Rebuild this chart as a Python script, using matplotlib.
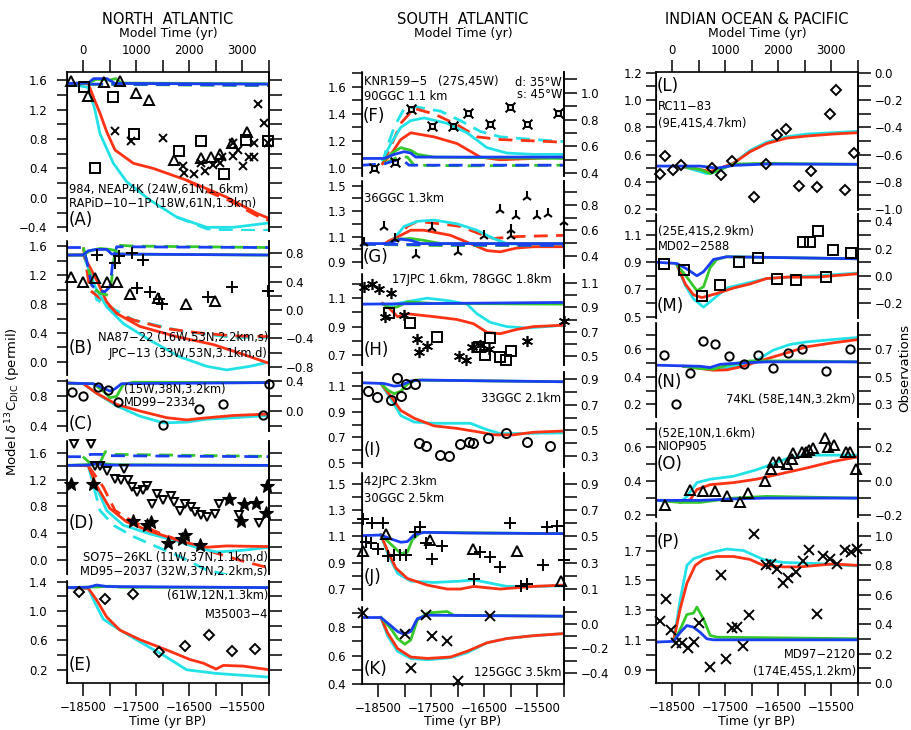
import matplotlib.pyplot as plt
from matplotlib.path import Path
from matplotlib.ticker import FuncFormatter

# Model curves are (model time [yr], model d13C_DIC [permil]) pairs.
# Observations are (model time [yr], observed d13C [permil]) pairs.

# ---------------- NORTH ATLANTIC ----------------
a_blue = [(-300, 1.555), (100, 1.56), (200, 1.62), (450, 1.62), (600, 1.555), (3500, 1.545)]
a_blue_d = [(-300, 1.545), (600, 1.545), (3500, 1.53)]
a_green = [(-300, 1.555), (100, 1.56), (250, 1.61), (500, 1.60), (620, 1.62), (720, 1.56), (3500, 1.55)]
a_green_d = [(-300, 1.545), (700, 1.54), (3500, 1.525)]
a_red = [(-300, 1.555), (101, 1.55), (195, 1.37), (321, 1.15), (446, 0.90), (603, 0.65), (948, 0.47),
         (1324, 0.40), (1951, 0.24), (2703, 0.01), (3268, -0.21), (3506, -0.28)]
a_red_d = [(1951, 0.24), (2300, 0.10), (2703, -0.02), (3268, -0.24), (3506, -0.31)]
a_cyan = [(-300, 1.555), (101, 1.50), (227, 1.19), (321, 0.87), (572, 0.47), (822, 0.22), (1261, -0.03),
          (1763, -0.26), (2327, -0.40), (2829, -0.40), (3506, -0.34)]
a_cyan_d = [(1763, -0.26), (2327, -0.42), (2829, -0.44), (3506, -0.44)]
a_tri = [(-231, 1.59), (101, 1.39), (402, 1.57), (697, 1.59), (998, 1.43), (1236, 1.33), (1719, 0.51),
         (2227, 0.54), (2409, 0.56), (2572, 0.59), (2810, 0.75), (3092, 0.90)]
a_sqr = [(26, 1.50), (227, 0.40), (559, 1.37), (967, 0.87), (1807, 0.64), (2221, 0.77), (2653, 0.32),
         (3067, 0.78), (3475, 0.77)]
a_x = [(603, 0.91), (904, 0.77), (1512, 0.81), (1888, 0.43), (1907, 0.34), (2089, 0.32), (2227, 0.47),
       (2290, 0.37), (2440, 0.44), (2578, 0.47), (2622, 0.56), (2816, 0.74), (2829, 0.57), (2917, 0.65),
       (3004, 0.43), (3130, 0.56), (3217, 0.56), (3217, 0.75), (3299, 1.28), (3412, 1.02), (3475, 0.74)]

b_blue = [(-300, 1.476), (0, 1.476), (101, 1.535), (258, 1.554), (446, 1.554), (540, 1.49), (3500, 1.476)]
b_blue_d = [(-300, 1.58), (7, 1.58), (82, 1.36), (164, 1.06), (258, 0.99), (415, 0.97), (509, 1.04),
            (559, 1.36), (634, 1.59), (3500, 1.58)]
b_green = [(-300, 1.476), (7, 1.476), (133, 1.535), (321, 1.567), (509, 1.554), (603, 1.54), (697, 1.49),
           (3500, 1.476)]
b_green_d = [(7, 1.58), (82, 1.36), (195, 1.02), (321, 0.95), (478, 0.92), (540, 1.13), (603, 1.54),
             (697, 1.61), (948, 1.60), (3500, 1.58)]
b_red = [(-300, 1.476), (7, 1.48), (258, 1.13), (446, 0.83), (634, 0.67), (1073, 0.49), (1763, 0.35),
         (2453, 0.24), (2954, 0.12), (3506, -0.02)]
b_red_d = [(7, 1.58), (133, 0.99), (321, 0.88), (634, 0.67), (948, 0.58), (1575, 0.46), (2202, 0.40),
           (2829, 0.36), (3506, 0.35)]
b_cyan = [(-300, 1.476), (7, 1.48), (227, 1.04), (446, 0.76), (760, 0.53), (1261, 0.30), (1826, 0.07),
          (2327, -0.06), (2703, -0.11), (3142, -0.06), (3506, 0.0)]
b_cyan_d = [(7, 1.58), (258, 0.86), (948, 0.58), (1888, 0.42), (2829, 0.34), (3506, 0.34)]
b_tri = [(-225, 0.47), (7, 0.40), (227, 0.45), (446, 0.40), (647, 0.40), (885, 0.23), (1418, 0.17),
         (1938, 0.09), (2484, 0.12)]
b_plus = [(258, 0.78), (603, 0.66), (684, 0.76), (916, 0.80), (1123, 0.70), (1023, 0.31), (1261, 0.26),
          (1437, 0.15), (1481, 0.09), (2358, 0.19), (2810, 0.32), (3487, 0.27)]

c_blue = [(-300, 0.978), (195, 0.97), (383, 0.91), (509, 0.87), (603, 0.90), (728, 0.97), (3500, 0.985)]
c_green = [(-300, 0.978), (195, 0.97), (383, 0.87), (509, 0.78), (634, 0.80), (760, 0.96), (948, 0.99),
           (3500, 0.985)]
c_red = [(-300, 0.978), (7, 0.97), (258, 0.84), (634, 0.69), (1073, 0.60), (1575, 0.51), (1951, 0.48),
         (2202, 0.50), (2829, 0.54), (3506, 0.56)]
c_cyan = [(-300, 0.978), (7, 0.97), (258, 0.84), (634, 0.67), (1073, 0.53), (1512, 0.44), (1951, 0.45),
          (2327, 0.49), (2829, 0.51), (3506, 0.54)]
c_circ = [(-212, 0.26), (-5, 0.21), (277, 0.32), (465, 0.29), (653, 0.12), (1500, -0.19), (2177, 0.03),
          (2641, 0.09), (3393, -0.05), (3506, 0.37)]

d_blue = [(-300, 1.415), (100, 1.42), (258, 1.44), (450, 1.42), (3500, 1.415)]
d_blue_d = [(-300, 1.545), (0, 1.545), (150, 1.58), (350, 1.58), (500, 1.56), (3500, 1.545)]
d_green = [(-300, 1.415), (200, 1.43), (400, 1.44), (600, 1.425), (3500, 1.415)]
d_green_d = [(0, 1.545), (200, 1.40), (300, 1.42), (420, 1.62), (600, 1.58), (3500, 1.55)]
d_red = [(-300, 1.415), (101, 1.41), (258, 1.11), (509, 0.77), (822, 0.57), (1261, 0.43), (1888, 0.27),
         (2327, 0.19), (2703, 0.21), (3506, 0.20)]
d_red_d = [(101, 1.41), (383, 1.09), (603, 0.74), (948, 0.57), (1449, 0.40), (1951, 0.25), (2515, 0.10),
           (3017, -0.02), (3506, -0.12)]
d_cyan = [(-300, 1.415), (101, 1.41), (227, 1.14), (446, 0.74), (760, 0.52), (1261, 0.39), (1700, 0.30),
          (2202, 0.17), (2515, 0.12), (2954, 0.14), (3506, 0.19)]
d_cyan_d = [(101, 1.41), (321, 0.74), (572, 0.52), (948, 0.35), (1324, 0.22), (1826, 0.05), (2327, -0.15),
            (2703, -0.22), (3205, -0.30)]
d_star = [(-225, 1.14), (195, 1.13), (935, 0.59), (1199, 0.52), (1274, 0.57), (1606, 0.26), (1857, 0.32),
          (1920, 0.37), (2202, 0.22), (2753, 0.91), (3036, 0.83), (2967, 0.58), (3255, 0.85), (3456, 1.11),
          (3437, 0.71)]
d_tdown = [(-168, 1.73), (145, 1.73), (227, 1.41), (321, 1.41), (459, 1.33), (603, 1.21), (772, 1.36),
           (709, 1.19), (854, 1.19), (916, 1.09), (1010, 1.01), (1123, 1.05), (1199, 1.11), (1293, 0.84),
           (1387, 0.99), (1512, 0.89), (1650, 0.96), (1713, 0.86), (1826, 0.74), (1920, 0.84), (2026, 0.79),
           (2108, 0.72), (2214, 0.67), (2327, 0.64), (2484, 0.69), (2565, 0.83), (2942, 0.67), (3318, 0.56)]

e_blue = [(-300, 1.32), (100, 1.325), (258, 1.355), (450, 1.335), (3500, 1.32)]
e_green = [(-300, 1.32), (300, 1.33), (500, 1.34), (700, 1.325), (3500, 1.32)]
e_red = [(-300, 1.32), (101, 1.31), (258, 1.15), (446, 0.92), (697, 0.74), (1073, 0.61), (1575, 0.47),
         (2014, 0.34), (2264, 0.29), (2503, 0.21), (2641, 0.26), (3017, 0.25), (3506, 0.20)]
e_cyan = [(-300, 1.32), (101, 1.31), (227, 1.11), (383, 0.89), (634, 0.77), (1073, 0.58), (1512, 0.40),
          (1951, 0.20), (2515, 0.15), (3506, 0.10)]
e_diam = [(-68, 1.26), (421, 1.16), (935, 1.23), (1437, 0.44), (1920, 0.52), (2371, 0.68), (2810, 0.45),
          (3236, 0.49)]

# ---------------- SOUTH ATLANTIC ----------------
f_blue = [(-300, 1.07), (118, 1.07), (305, 1.10), (492, 1.12), (617, 1.11), (710, 1.08), (3500, 1.08)]
f_blue_d = [(-300, 1.02), (118, 1.03), (368, 1.06), (492, 1.05), (586, 1.02), (3500, 1.02)]
f_green = [(118, 1.06), (305, 1.12), (430, 1.15), (617, 1.13), (741, 1.10), (1053, 1.08), (3500, 1.07)]
f_green_d = [(118, 1.03), (368, 1.08), (554, 1.08), (679, 1.02), (1676, 1.015), (3500, 1.02)]
f_red = [(87, 1.03), (243, 1.10), (430, 1.21), (617, 1.26), (1053, 1.23), (1489, 1.18), (1925, 1.08),
         (2299, 1.06), (2922, 1.07), (3500, 1.08)]
f_red_d = [(87, 1.03), (243, 1.16), (430, 1.33), (679, 1.44), (1053, 1.40), (1489, 1.32), (1863, 1.23),
           (2299, 1.21), (2922, 1.20), (3500, 1.19)]
f_cyan = [(87, 1.06), (243, 1.18), (430, 1.30), (617, 1.35), (866, 1.37), (1302, 1.33), (1676, 1.26),
          (2050, 1.15), (2423, 1.11), (2922, 1.10), (3500, 1.10)]
f_cyan_d = [(87, 1.03), (150, 1.13), (305, 1.30), (492, 1.44), (741, 1.45), (1177, 1.42), (1551, 1.35),
            (1925, 1.27), (2299, 1.23), (2922, 1.21), (3500, 1.195)]
f_box = [(-81, 0.44), (318, 0.48), (617, 0.88), (1009, 0.75), (1408, 0.75), (1695, 0.85), (2100, 0.77),
         (2486, 0.89), (2804, 0.77), (3389, 0.85)]

g_blue = [(-300, 1.045), (181, 1.045), (430, 1.08), (617, 1.07), (804, 1.045), (3500, 1.045)]
g_blue_d = [(-300, 1.04), (3500, 1.03)]
g_green = [(181, 1.045), (368, 1.08), (617, 1.085), (866, 1.07), (1177, 1.045), (3500, 1.045)]
g_green_d = [(-300, 1.04), (1053, 1.03), (3500, 1.03)]
g_red = [(118, 1.045), (305, 1.08), (430, 1.11), (617, 1.15), (866, 1.15), (1364, 1.11), (1738, 1.045),
         (2050, 0.99), (2299, 0.98), (2610, 1.01), (2922, 1.02), (3500, 1.02)]
g_red_d = [(181, 1.06), (368, 1.10), (554, 1.18), (741, 1.22), (1177, 1.20), (1551, 1.18), (1925, 1.12),
           (2174, 1.085), (2610, 1.10), (3500, 1.11)]
g_cyan = [(181, 1.05), (305, 1.085), (492, 1.18), (741, 1.22), (1053, 1.23), (1489, 1.20), (1863, 1.15),
          (2174, 1.085), (2423, 1.045), (2922, 1.03), (3500, 1.03)]
g_tri = [(-255, 0.50), (106, 0.63), (318, 0.53), (710, 0.41), (1009, 0.62), (1508, 0.43), (1994, 0.56),
         (2305, 0.76), (2598, 0.71), (2797, 0.86), (2997, 0.71), (3190, 0.73), (2498, 0.60), (2498, 0.56),
         (3501, 0.67)]

h_blue = [(-300, 1.058), (3500, 1.07)]
h_green = [(87, 1.058), (243, 1.03), (368, 1.04), (554, 1.074), (1053, 1.063), (3500, 1.058)]
h_red = [(87, 1.063), (212, 1.03), (368, 0.97), (554, 0.99), (1053, 0.97), (1489, 0.95), (1800, 0.92),
         (2050, 0.86), (2299, 0.85), (2610, 0.88), (2922, 0.90), (3500, 0.91)]
h_cyan = [(87, 1.063), (212, 1.044), (368, 1.063), (617, 1.08), (928, 1.10), (1364, 1.08), (1676, 1.058),
          (1863, 0.99), (2112, 0.93), (2423, 0.90), (2797, 0.89), (3500, 0.91)]
h_star = [(-255, 1.07), (-118, 1.09), (25, 1.05), (243, 1.02), (131, 0.82), (492, 0.84), (741, 0.64),
          (773, 0.53), (916, 0.58), (1520, 0.50), (1657, 0.47), (1769, 0.57), (1925, 0.59), (2081, 0.56),
          (2797, 0.62), (3501, 0.79)]
h_sqr = [(212, 0.85), (604, 0.77), (1103, 0.66), (1906, 0.57), (2006, 0.51), (2100, 0.65), (2299, 0.49),
         (2411, 0.47), (2498, 0.54)]

i_blue = [(-300, 1.126), (118, 1.12), (305, 1.10), (430, 1.105), (617, 1.14), (804, 1.147), (3500, 1.134)]
i_green = [(56, 1.12), (181, 1.07), (305, 1.04), (430, 1.06), (554, 1.115), (710, 1.147), (3500, 1.134)]
i_red = [(56, 1.12), (243, 1.02), (430, 0.91), (679, 0.85), (1053, 0.79), (1489, 0.77), (1925, 0.74),
         (2174, 0.72), (2548, 0.72), (2922, 0.74), (3500, 0.75)]
i_cyan = [(56, 1.12), (243, 1.00), (430, 0.87), (679, 0.82), (1053, 0.81), (1489, 0.81), (1738, 0.81),
          (2050, 0.76), (2299, 0.73), (2610, 0.73), (3500, 0.735)]
i_circ = [(-193, 0.81), (-19, 0.76), (243, 0.74), (355, 0.91), (442, 0.77), (523, 0.86), (692, 0.86),
          (773, 0.40), (897, 0.38), (1159, 0.31), (1333, 0.30), (1539, 0.39), (1707, 0.41), (1788, 0.40),
          (2068, 0.44), (2405, 0.48), (2797, 0.41), (3246, 0.38)]

j_blue = [(-300, 1.105), (56, 1.11), (243, 1.08), (430, 1.055), (554, 1.06), (679, 1.11), (866, 1.13),
          (1676, 1.125), (3500, 1.12)]
j_green = [(56, 1.11), (243, 1.04), (430, 0.97), (554, 0.98), (648, 1.075), (804, 1.13), (3500, 1.12)]
j_red = [(56, 1.11), (181, 0.99), (336, 0.86), (554, 0.78), (928, 0.73), (1302, 0.70), (1551, 0.70),
         (1800, 0.72), (2050, 0.71), (2299, 0.70), (2610, 0.71), (2922, 0.72), (3500, 0.73)]
j_cyan = [(56, 1.11), (181, 0.97), (368, 0.82), (617, 0.76), (1053, 0.75), (1551, 0.76), (1800, 0.77),
          (2050, 0.75), (2423, 0.72), (2922, 0.72), (3500, 0.725)]
j_plus = [(-274, 0.63), (-112, 0.60), (100, 0.60), (-224, 0.46), (-131, 0.45), (-6, 0.40), (193, 0.35),
          (305, 0.36), (417, 0.36), (523, 0.36), (698, 0.53), (791, 0.57), (910, 0.45), (1009, 0.33),
          (1209, 0.43), (1800, 0.18), (1913, 0.38), (2112, 0.34), (2299, 0.27), (2486, 0.60), (2691, 0.12),
          (2810, 0.14), (3096, 0.28), (3184, 0.57), (3377, 0.58), (3501, 0.32)]
j_tri = [(-274, 0.39), (150, 0.52), (978, 0.47), (1788, 0.40), (2623, 0.39), (3451, 0.16)]

k_blue = [(-300, 0.868), (56, 0.868), (243, 0.81), (368, 0.77), (492, 0.75), (617, 0.77), (741, 0.86),
          (928, 0.884), (3500, 0.877)]
k_green = [(56, 0.868), (243, 0.79), (368, 0.72), (505, 0.68), (617, 0.71), (741, 0.85), (928, 0.90),
           (1302, 0.91), (1427, 0.884), (3500, 0.877)]
k_red = [(56, 0.868), (181, 0.76), (368, 0.65), (617, 0.59), (928, 0.58), (1364, 0.59), (1676, 0.63),
         (2050, 0.69), (2423, 0.72), (2922, 0.74), (3500, 0.755)]
k_cyan = [(56, 0.868), (181, 0.74), (368, 0.63), (617, 0.58), (928, 0.57), (1364, 0.585), (1676, 0.62),
          (2050, 0.69), (2423, 0.72), (2922, 0.74), (3500, 0.755)]
k_x = [(-274, 0.09), (505, -0.08), (617, -0.36), (897, 0.08), (1009, -0.10), (1302, -0.14), (1501, -0.47),
       (2100, 0.07)]

# ---------------- INDIAN OCEAN & PACIFIC ----------------
l_blue = [(-300, 0.515), (531, 0.515), (844, 0.50), (1156, 0.52), (1781, 0.53), (3500, 0.528)]
l_green = [(219, 0.51), (531, 0.49), (719, 0.46), (906, 0.49), (1156, 0.53), (1781, 0.535), (3500, 0.528)]
l_red = [(219, 0.51), (531, 0.49), (719, 0.475), (906, 0.50), (1156, 0.535), (1469, 0.62), (1781, 0.68),
         (2156, 0.72), (2531, 0.735), (3031, 0.75), (3500, 0.76)]
l_cyan = [(219, 0.51), (656, 0.46), (844, 0.475), (1156, 0.535), (1469, 0.63), (1781, 0.69), (2156, 0.73),
          (2531, 0.75), (3031, 0.76), (3500, 0.77)]
l_diam = [(-231, -0.74), (-125, -0.61), (13, -0.71), (175, -0.68), (750, -0.70), (925, -0.75), (1125, -0.65),
          (1550, -0.91), (1769, -0.67), (1981, -0.46), (2144, -0.41), (2381, -0.83), (2619, -0.72),
          (2731, -0.84), (2969, -0.30), (3081, -0.13), (3250, -0.86), (3419, -0.59)]

m_blue = [(-300, 0.90), (94, 0.89), (281, 0.85), (469, 0.80), (594, 0.83), (781, 0.92), (1031, 0.94),
          (3500, 0.925)]
m_green = [(94, 0.88), (281, 0.79), (469, 0.69), (594, 0.72), (719, 0.86), (844, 0.92), (1031, 0.94),
           (3500, 0.925)]
m_red = [(94, 0.88), (250, 0.74), (406, 0.66), (563, 0.64), (844, 0.67), (1156, 0.71), (1469, 0.74),
         (1781, 0.78), (2156, 0.79), (2719, 0.79), (3031, 0.80), (3500, 0.815)]
m_cyan = [(94, 0.88), (250, 0.73), (406, 0.63), (594, 0.57), (781, 0.63), (1031, 0.71), (1344, 0.74),
          (1781, 0.78), (2156, 0.79), (2719, 0.80), (3500, 0.82)]
m_sqr = [(-156, 0.09), (219, 0.04), (563, -0.15), (906, -0.07), (1269, 0.10), (1625, 0.13), (1969, -0.02),
         (2331, -0.03), (2456, 0.25), (2606, 0.25), (2750, 0.33), (2894, -0.01), (3031, 0.19), (3375, 0.17)]

n_blue = [(-300, 0.484), (531, 0.476), (719, 0.467), (906, 0.49), (1281, 0.50), (1781, 0.508), (3500, 0.508)]
n_green = [(219, 0.476), (531, 0.46), (781, 0.455), (1031, 0.484), (1469, 0.515), (2094, 0.515), (3500, 0.508)]
n_red = [(219, 0.476), (531, 0.46), (781, 0.447), (1031, 0.45), (1344, 0.476), (1594, 0.508), (1906, 0.544),
         (2219, 0.58), (2531, 0.617), (3031, 0.646), (3500, 0.67)]
n_cyan = [(219, 0.476), (781, 0.452), (1281, 0.484), (1594, 0.52), (1906, 0.593), (2219, 0.634),
          (2531, 0.653), (3031, 0.67), (3500, 0.685)]
n_circ = [(-156, 0.66), (81, 0.30), (331, 0.53), (575, 0.76), (813, 0.74), (1081, 0.65), (1356, 0.59),
          (1625, 0.66), (1894, 0.56), (2175, 0.67), (2450, 0.70), (2906, 0.54), (3356, 0.70)]

o_blue = [(-300, 0.287), (531, 0.287), (1156, 0.295), (1781, 0.30), (3500, 0.30)]
o_green = [(-300, 0.287), (156, 0.275), (531, 0.275), (1156, 0.30), (1781, 0.31), (3500, 0.30)]
o_red = [(156, 0.275), (344, 0.29), (469, 0.35), (719, 0.378), (1156, 0.39), (1594, 0.41), (2094, 0.445),
         (2531, 0.475), (3031, 0.513), (3500, 0.54)]
o_cyan = [(156, 0.275), (281, 0.31), (469, 0.39), (719, 0.41), (1156, 0.427), (1594, 0.465), (1906, 0.50),
          (2156, 0.53), (2531, 0.55), (3031, 0.55), (3500, 0.55)]
o_tri = [(-125, -0.14), (331, -0.05), (575, -0.06), (813, -0.06), (1044, -0.09), (1281, -0.12),
         (1438, -0.07), (1750, 0.00), (1863, 0.07), (1906, 0.11), (2013, 0.11), (2156, 0.10), (2250, 0.13),
         (2281, 0.16), (2438, 0.17), (2513, 0.17), (2581, 0.18), (2656, 0.19), (2881, 0.25), (2944, 0.20),
         (3050, 0.21), (3281, 0.17), (3356, 0.17), (3469, 0.07)]

p_blue = [(-300, 1.085), (31, 1.09), (156, 1.15), (281, 1.196), (406, 1.185), (531, 1.15), (656, 1.107),
          (781, 1.10), (3500, 1.10)]
p_green = [(31, 1.09), (156, 1.17), (281, 1.27), (406, 1.28), (469, 1.32), (594, 1.24), (719, 1.13),
           (844, 1.118), (3500, 1.107)]
p_red = [(31, 1.095), (156, 1.31), (281, 1.48), (438, 1.60), (594, 1.64), (844, 1.66), (1156, 1.66),
         (1469, 1.64), (1719, 1.60), (2094, 1.59), (2406, 1.59), (2719, 1.60), (3031, 1.61), (3500, 1.60)]
p_cyan = [(31, 1.095), (156, 1.37), (281, 1.60), (406, 1.645), (531, 1.66), (719, 1.685), (1031, 1.71),
          (1344, 1.70), (1719, 1.64), (2094, 1.62), (2719, 1.613), (3500, 1.596)]
p_x = [(-219, 0.42), (-113, 0.57), (-19, 0.36), (81, 0.27), (188, 0.27), (300, 0.24), (419, 0.28),
       (500, 0.41), (719, 0.11), (925, 0.73), (1019, 0.16), (1125, 0.37), (1219, 0.38), (1344, 0.25),
       (1450, 0.46), (1544, 1.01), (1763, 0.80), (1863, 0.81), (1969, 0.77), (2081, 0.68), (2175, 0.71),
       (2331, 0.75), (2469, 0.83), (2581, 0.90), (2731, 0.47), (2844, 0.86), (2969, 0.84), (3106, 0.81),
       (3250, 0.90), (3375, 0.89), (3481, 0.91)]

model_ticks = [0, 1000, 2000, 3000]
model_minor = [500, 1500, 2500, 3500]
bp_labels = ['\u221218500', '\u221217500', '\u221216500', '\u221215500']

RED, CYAN, GREEN, BLUE = '#ff3214', '#22e2e8', '#35c92a', '#1a3ff2'

# square with spikes at the corners, used for the KNR159-5 cores
BOX = Path([(-0.5, -0.5), (0.5, -0.5), (0.5, 0.5), (-0.5, 0.5), (-0.5, -0.5),
            (0.5, 0.5), (1, 1), (-0.5, 0.5), (-1, 1), (0.5, -0.5), (1, -1), (-0.5, -0.5), (-1, -1)],
           [Path.MOVETO, Path.LINETO, Path.LINETO, Path.LINETO, Path.CLOSEPOLY,
            Path.MOVETO, Path.LINETO, Path.MOVETO, Path.LINETO, Path.MOVETO, Path.LINETO,
            Path.MOVETO, Path.LINETO])

W, H = 912, 730
COLS = [(67, 269), (362, 564), (656, 858)]
LPAD = [7, 4.5, 3]
TICK_FS = 8.5
NOTE_FS = 8.3
TAG_FS = 12

plt.rcParams['font.family'] = 'DejaVu Sans'
fig = plt.figure(figsize=(W / 100, H / 100), dpi=100)


def fmt(v, pos=None):
    s = f'{v:.1f}'
    if s == '-0.0':
        s = '0.0'
    return s.replace('-', '\u2212')


def panel(col, top, bot, ylim, major, minor, rlim=None, rmajor=None, rminor=None, first=False, last=False):
    x0, x1 = COLS[col]
    ax = fig.add_axes([x0 / W, 1 - bot / H, (x1 - x0) / W, (bot - top) / H])
    ax.set_xlim(-300, 3500)
    ax.set_ylim(*ylim)
    ax.spines['top'].set_visible(first)
    ax.spines['bottom'].set_visible(last)
    for s in ax.spines.values():
        s.set_linewidth(1.2)
    ax.set_yticks(major)
    ax.set_yticks(minor, minor=True)
    ax.yaxis.set_major_formatter(FuncFormatter(fmt))
    ax.tick_params(axis='y', which='both', direction='out', length=7, width=1.1,
                   labelsize=TICK_FS, pad=LPAD[col], right=False)
    ax.set_xticks(model_ticks)
    ax.set_xticks(model_minor, minor=True)
    if first:
        ax.xaxis.set_ticks_position('top')
        ax.set_xticklabels([str(t) for t in model_ticks])
        ax.tick_params(axis='x', which='both', direction='out', length=9, width=1.1, labelsize=TICK_FS, pad=2)
    elif last:
        ax.set_xticklabels(bp_labels)
        ax.tick_params(axis='x', which='both', direction='out', length=9, width=1.1, labelsize=TICK_FS, pad=4)
    else:
        ax.tick_params(axis='x', which='both', bottom=False, top=False, labelbottom=False)

    axr = ax.twinx()
    axr.set_ylim(*(rlim if rlim else ylim))
    for s in ('top', 'bottom'):
        axr.spines[s].set_visible(False)
    axr.spines['right'].set_linewidth(1.2)
    if rmajor is None:
        axr.set_yticks(list(major) + list(minor))
        axr.set_yticklabels([])
    else:
        axr.set_yticks(rmajor)
        axr.set_yticks(rminor, minor=True)
        axr.yaxis.set_major_formatter(FuncFormatter(fmt))
    axr.tick_params(axis='y', which='both', direction='out', length=9, width=1.1, labelsize=TICK_FS, pad=3)
    return ax, axr


def curve(ax, pts, color, dashed=False):
    t = [p[0] for p in pts]
    v = [p[1] for p in pts]
    kw = dict(color=color, lw=2.0, solid_joinstyle='round')
    if dashed:
        kw['dashes'] = (5, 3)
    ax.plot(t, v, **kw)


def obs(ax, pts, marker, ms=6.5, filled=False, mew=1.4):
    t = [p[0] for p in pts]
    v = [p[1] for p in pts]
    ax.plot(t, v, ls='none', marker=marker, ms=ms, mew=mew, mec='black',
            mfc='black' if filled else 'none', clip_on=False, zorder=5)


def txt(x, y, s, size=NOTE_FS, ha='left'):
    fig.text(x / W, 1 - y / H, s, fontsize=size, ha=ha, va='center')


def models(ax, cyan, red, green, blue, cyan_d=None, red_d=None, green_d=None, blue_d=None):
    for pts, c, d in ((cyan_d, CYAN, True), (red_d, RED, True), (cyan, CYAN, False), (red, RED, False),
                      (green_d, GREEN, True), (blue_d, BLUE, True), (green, GREEN, False), (blue, BLUE, False)):
        if pts:
            curve(ax, pts, c, d)


def frange(a, b, step):
    n = int(round((b - a) / step))
    return [round(a + i * step, 2) for i in range(n + 1)]


# ---------- North Atlantic ----------
ax, axr = panel(0, 72, 231, (-0.45, 1.71), frange(-0.4, 1.6, 0.4), frange(-0.2, 1.4, 0.4), first=True)
models(ax, a_cyan, a_red, a_green, a_blue, a_cyan_d, a_red_d, a_green_d, a_blue_d)
obs(ax, a_tri, '^'); obs(ax, a_sqr, 's'); obs(ax, a_x, 'x', ms=6)
txt(69, 190, '984, NEAP4K (24W,61N,1.6km)')
txt(69, 204, 'RAPiD\u221210\u22121P (18W,61N,1.3km)')
txt(69, 220, '(A)', size=TAG_FS)

ax, axr = panel(0, 241, 375, (-0.18, 1.67), frange(0.0, 1.6, 0.4), frange(0.2, 1.4, 0.4),
                (-0.917, 0.973), frange(-0.8, 0.8, 0.4), frange(-0.6, 0.6, 0.4))
models(ax, b_cyan, b_red, b_green, b_blue, b_cyan_d, b_red_d, b_green_d, b_blue_d)
obs(axr, b_tri, '^'); obs(axr, b_plus, '+', ms=8)
txt(268, 338, 'NA87\u221222 (16W,53N,2.2km,s)', ha='right')
txt(268, 354, 'JPC\u221213 (33W,53N,3.1km,d)', ha='right')
txt(69, 348, '(B)', size=TAG_FS)

ax, axr = panel(0, 380, 431, (0.33, 1.02), [0.4, 0.8], [0.6, 1.0],
                (-0.27, 0.42), [0.0, 0.4], [-0.2, 0.2])
models(ax, c_cyan, c_red, c_green, c_blue)
obs(axr, c_circ, 'o', ms=6)
txt(124, 390, '(15W,38N,3.2km)')
txt(124, 403, 'MD99\u22122334')
txt(69, 424, '(C)', size=TAG_FS)

ax, axr = panel(0, 441, 574, (-0.21, 1.78), frange(0.0, 1.6, 0.4), frange(0.2, 1.4, 0.4))
models(ax, d_cyan, d_red, d_green, d_blue, d_cyan_d, d_red_d, d_green_d, d_blue_d)
obs(ax, d_tdown, 'v', ms=6); obs(ax, d_star, '*', ms=10.5, filled=True, mew=0.8)
txt(69, 523, '(D)', size=TAG_FS)
txt(268, 558, 'SO75\u221226KL (11W,37N,1.1km,d)', ha='right')
txt(268, 571, 'MD95\u22122037 (32W,37N,2.2km,s)', ha='right')

ax, axr = panel(0, 581, 683, (0.02, 1.41), [0.2, 0.6, 1.0, 1.4], [0.4, 0.8, 1.2], last=True)
models(ax, e_cyan, e_red, e_green, e_blue)
obs(ax, e_diam, 'D', ms=5)
txt(268, 596, '(61W,12N,1.3km)', ha='right')
txt(268, 614, 'M35003\u22124', ha='right')
txt(69, 665, '(E)', size=TAG_FS)

# ---------- South Atlantic ----------
ax, axr = panel(1, 72, 176, (0.94, 1.71), [1.0, 1.2, 1.4, 1.6], frange(1.1, 1.7, 0.2),
                (0.378, 1.155), [0.4, 0.6, 0.8, 1.0], [0.5, 0.7, 0.9, 1.1])
models(ax, f_cyan, f_red, f_green, f_blue, f_cyan_d, f_red_d, f_green_d, f_blue_d)
obs(axr, f_box, BOX, ms=7, mew=1.5)
txt(364, 82, 'KNR159\u22125   (27S,45W)')
txt(364, 97, '90GGC 1.1 km')
txt(363, 116, '(F)', size=TAG_FS)
txt(562, 82, 'd: 35\u00b0W', ha='right')
txt(562, 95, 's: 45\u00b0W', ha='right')

ax, axr = panel(1, 181, 268, (0.853, 1.537), [0.9, 1.1, 1.3, 1.5], [1.0, 1.2, 1.4],
                (0.306, 0.988), [0.4, 0.6, 0.8], [0.5, 0.7, 0.9])
models(ax, g_cyan, g_red, g_green, g_blue, None, g_red_d, g_green_d, g_blue_d)
obs(axr, g_tri, '2', ms=8, mew=1.5)
txt(364, 198, '36GGC 1.3km')
txt(363, 257, '(G)', size=TAG_FS)

ax, axr = panel(1, 274, 365, (0.63, 1.27), [0.7, 0.9, 1.1], [0.8, 1.0, 1.2],
                (0.426, 1.174), [0.5, 0.7, 0.9, 1.1], [0.6, 0.8, 1.0])
models(ax, h_cyan, h_red, h_green, h_blue)
obs(axr, h_star, (6, 2, 0), ms=8, mew=1.2); obs(axr, h_sqr, 's')
txt(392, 280, '17JPC 1.6km, 78GGC 1.8km')
txt(364, 350, '(H)', size=TAG_FS)

ax, axr = panel(1, 372, 467, (0.469, 1.21), [0.5, 0.7, 0.9, 1.1], [0.6, 0.8, 1.0, 1.2],
                (0.214, 0.955), [0.3, 0.5, 0.7, 0.9], [0.4, 0.6, 0.8])
models(ax, i_cyan, i_red, i_green, i_blue)
obs(axr, i_circ, 'o', ms=6.5)
txt(561, 398, '33GGC 2.1km', ha='right')
txt(364, 450, '(I)', size=TAG_FS)

ax, axr = panel(1, 473, 600, (0.617, 1.58), [0.7, 0.9, 1.1, 1.3, 1.5], [0.8, 1.0, 1.2, 1.4],
                (0.017, 0.98), [0.1, 0.3, 0.5, 0.7, 0.9], [0.2, 0.4, 0.6, 0.8])
models(ax, j_cyan, j_red, j_green, j_blue)
obs(axr, j_plus, '+', ms=8); obs(axr, j_tri, '^')
txt(364, 482, '42JPC 2.3km')
txt(364, 498, '30GGC 2.5km')
txt(364, 577, '(J)', size=TAG_FS)

ax, axr = panel(1, 607, 684, (0.4, 0.942), [0.4, 0.6, 0.8], [0.5, 0.7, 0.9],
                (-0.493, 0.142), [-0.4, -0.2, 0.0], [-0.3, -0.1, 0.1], last=True)
models(ax, k_cyan, k_red, k_green, k_blue)
obs(axr, k_x, 'x', ms=6.5)
txt(364, 669, '(K)', size=TAG_FS)
txt(561, 672, '125GGC 3.5km', ha='right')

# ---------- Indian Ocean & Pacific ----------
ax, axr = panel(2, 72, 210, (0.193, 1.205), frange(0.2, 1.2, 0.2), frange(0.3, 1.1, 0.2),
                (-1.007, 0.005), frange(-1.0, 0.0, 0.2), frange(-0.9, -0.1, 0.2), first=True)
models(ax, l_cyan, l_red, l_green, l_blue)
obs(axr, l_diam, 'D', ms=5)
txt(657, 86, '(L)', size=TAG_FS)
txt(658, 107, 'RC11\u221283')
txt(658, 123, '(9E,41S,4.7km)')

ax, axr = panel(2, 214, 318, (0.49, 1.254), [0.5, 0.7, 0.9, 1.1], [0.6, 0.8, 1.0, 1.2],
                (-0.31, 0.454), [-0.2, 0.0, 0.2, 0.4], [-0.1, 0.1, 0.3])
models(ax, m_cyan, m_red, m_green, m_blue)
obs(axr, m_sqr, 's')
txt(658, 231, '(25E,41S,2.9km)')
txt(658, 247, 'MD02\u22122588')
txt(657, 306, '(M)', size=TAG_FS)

ax, axr = panel(2, 323, 417, (0.108, 0.79), [0.2, 0.4, 0.6], [0.3, 0.5, 0.7],
                (0.208, 0.89), [0.3, 0.5, 0.7], [0.4, 0.6, 0.8])
models(ax, n_cyan, n_red, n_green, n_blue)
obs(axr, n_circ, 'o', ms=6)
txt(657, 382, '(N)', size=TAG_FS)
txt(856, 400, '74KL (58E,14N,3.2km)', ha='right')

ax, axr = panel(2, 423, 517, (0.19, 0.737), [0.2, 0.4, 0.6], [0.3, 0.5, 0.7],
                (-0.21, 0.337), [-0.2, 0.0, 0.2], [-0.1, 0.1, 0.3])
models(ax, o_cyan, o_red, o_green, o_blue)
obs(axr, o_tri, '^')
txt(658, 434, '(52E,10N,1.6km)')
txt(658, 447, 'NIOP905')
txt(657, 464, '(O)', size=TAG_FS)

ax, axr = panel(2, 523, 683, (0.81, 1.885), [0.9, 1.1, 1.3, 1.5, 1.7], [1.0, 1.2, 1.4, 1.6, 1.8],
                (0.01, 1.085), frange(0.0, 1.0, 0.2), frange(0.1, 0.9, 0.2), last=True)
models(ax, p_cyan, p_red, p_green, p_blue)
obs(axr, p_x, 'x', ms=6.5)
txt(657, 542, '(P)', size=TAG_FS)
txt(856, 655, 'MD97\u22122120', ha='right')
txt(856, 672, '(174E,45S,1.2km)', ha='right')

# ---------- column headers and outer labels ----------
for (x0, x1), name in zip(COLS, ['NORTH  ATLANTIC', 'SOUTH  ATLANTIC', 'INDIAN OCEAN & PACIFIC']):
    xc = (x0 + x1) / 2
    txt(xc, 19, name, size=10.5, ha='center')
    txt(xc, 34, 'Model Time (yr)', size=9, ha='center')
    txt(xc, 722, 'Time (yr BP)', size=9, ha='center')

fig.text(13 / W, 1 - 402 / H, r'Model $\delta^{13}$C$_{\rm DIC}$ (permil)', rotation=90,
         fontsize=9.5, ha='center', va='center')
fig.text(905 / W, 1 - 368 / H, 'Observations', rotation=90, fontsize=9.5, ha='center', va='center')

fig.savefig('out.png', dpi=100)
